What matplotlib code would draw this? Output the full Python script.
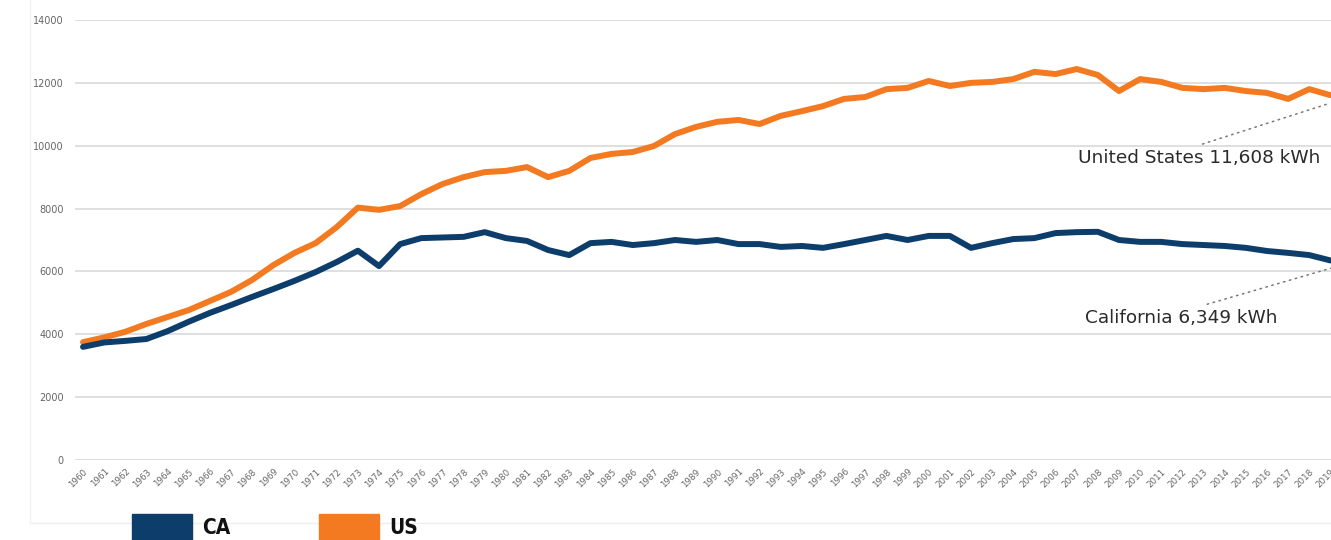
import matplotlib.pyplot as plt
from matplotlib.patches import Rectangle
from matplotlib.lines import Line2D

# Per-capita electricity use, kWh
years = list(range(1960, 2020))
us_kwh = [
    3750, 3900, 4080, 4330, 4550, 4770, 5060, 5350, 5730, 6200,
    6590, 6900, 7410, 8030, 7960, 8080, 8460, 8780, 9000, 9160,
    9200, 9320, 9000, 9200, 9610, 9740, 9800, 9990, 10370, 10600,
    10760, 10820, 10690, 10950, 11100, 11260, 11490, 11550, 11800, 11840,
    12060, 11900, 12000, 12030, 12120, 12350, 12280, 12440, 12250, 11740,
    12120, 12030, 11840, 11800, 11840, 11740, 11680, 11490, 11800, 11608,
]
ca_kwh = [
    3600, 3740, 3790, 3850, 4100, 4400, 4680, 4930, 5190, 5440,
    5700, 5980, 6300, 6660, 6170, 6870, 7060, 7080, 7100, 7250,
    7060, 6970, 6680, 6520, 6900, 6940, 6840, 6900, 7000, 6940,
    7000, 6870, 6870, 6780, 6810, 6750, 6870, 7000, 7130, 7000,
    7130, 7130, 6750, 6900, 7030, 7060, 7220, 7250, 7260, 7000,
    6940, 6940, 6870, 6840, 6810, 6750, 6650, 6590, 6520, 6349,
]
y_ticks = [0, 2000, 4000, 6000, 8000, 10000, 12000, 14000]

NAVY = "#0d3e6b"
ORANGE = "#f37a21"
GRID = "#dcdcdc"
TICK = "#666666"

fig = plt.figure(figsize=(13.31, 5.40), dpi=100)
W, H = 1331, 540

# axes runs past the right edge of the figure on purpose
left_px, right_px = 75, 1341
top_px, bottom_px = 20, 460
ax = fig.add_axes([left_px / W, 1 - bottom_px / H,
                   (right_px - left_px) / W, (bottom_px - top_px) / H])

ax.plot(years, us_kwh, color=ORANGE, lw=4.3, solid_capstyle="round", zorder=3)
ax.plot(years, ca_kwh, color=NAVY, lw=4.3, solid_capstyle="round", zorder=3)

ax.set_xlim(1959.62, 2019.5)
ax.set_ylim(0, 14000)
ax.set_yticks(y_ticks)
ax.set_yticklabels([str(v) for v in y_ticks], fontsize=7, color=TICK)
ax.set_xticks(years)
ax.set_xticklabels([str(y) for y in years], fontsize=6.3, color=TICK,
                   rotation=45, ha="right", rotation_mode="anchor")
ax.tick_params(axis="both", length=0)
ax.tick_params(axis="y", pad=8)
ax.tick_params(axis="x", pad=5)
ax.grid(axis="y", color=GRID, lw=1.3)
ax.set_axisbelow(True)
for s in ax.spines.values():
    s.set_visible(False)

note_font = dict(family=["DejaVu Sans"], fontsize=13.3, color="#2b2b2b")
dots = dict(arrowstyle="-", color="#777777", lw=1.1, linestyle=(0, (1, 3)),
            shrinkA=5, shrinkB=0)

# leader lines stop a little under the final point of each series
ax.annotate(f"United States {us_kwh[-1]:,} kWh",
            xy=(years[-1], us_kwh[-1] - 250), xytext=(2012.8, 9610),
            ha="center", va="center",
            arrowprops=dict(relpos=(0.45, 1.0), **dots), **note_font)
ax.annotate(f"California {ca_kwh[-1]:,} kWh",
            xy=(years[-1], ca_kwh[-1] - 250), xytext=(2011.95, 4520),
            ha="center", va="center",
            arrowprops=dict(relpos=(0.55, 1.0), **dots), **note_font)

# faint outer frame of the chart card
fig.add_artist(Line2D([30 / W, 1.0], [1 - 523 / H] * 2, color="#efefef", lw=1, zorder=1))
fig.add_artist(Line2D([30 / W] * 2, [1 - 523 / H, 1.0], color="#f3f3f3", lw=1, zorder=1))

# legend swatches along the bottom
legend_font = dict(family=["DejaVu Sans"], fontstretch="condensed",
                   fontsize=15, fontweight="bold", color="#111111", va="center")
for x0, color, label in [(132, NAVY, "CA"), (319, ORANGE, "US")]:
    fig.add_artist(Rectangle((x0 / W, 0), 60 / W, 26 / H, color=color,
                             transform=fig.transFigure, zorder=3))
    fig.text((x0 + 70) / W, 1 - 528 / H, label, **legend_font)

fig.savefig("out.png", dpi=100)
